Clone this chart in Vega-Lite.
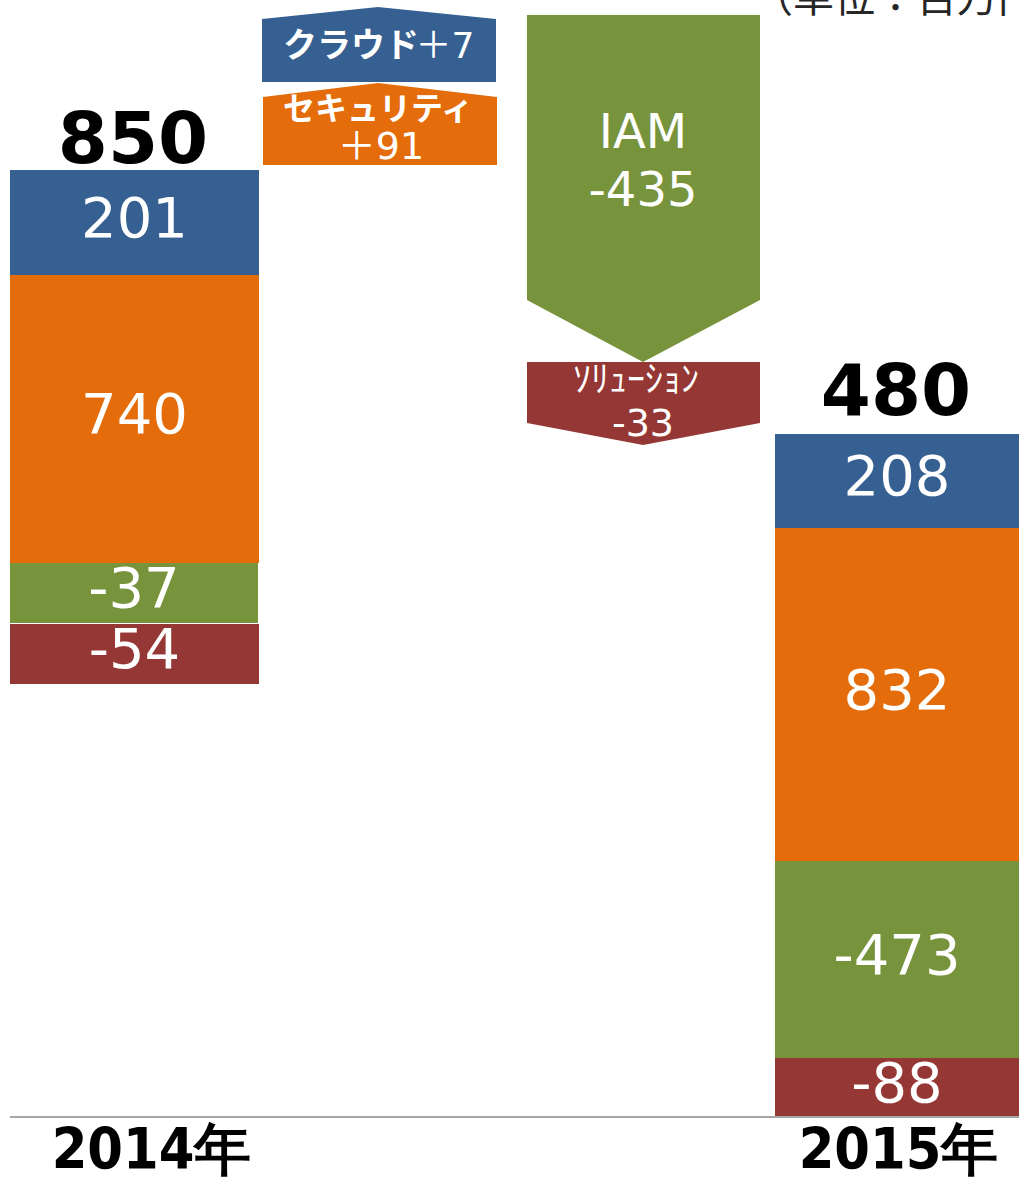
{
  "$schema": "https://vega.github.io/schema/vega-lite/v6.json",
  "width": 1019,
  "height": 1117,
  "autosize": {"type": "none"},
  "padding": {"left": 0, "top": 0, "right": 0, "bottom": 62},
  "background": "white",
  "config": {
    "view": {"stroke": null},
    "axisX": {"domain": false, "ticks": false, "grid": false, "labelFontSize": 57, "labelFont": "Liberation Sans Narrow, DejaVu Sans Condensed, sans-serif", "labelFontWeight": "bold", "labelColor": "black", "labelPadding": 6, "labelFlush": false, "labelLimit": 0, "labelOverlap": false, "title": null}
  },
  "datasets": {
    "bars": [
      {"year": "2014", "seg": "cloud", "x0": 10, "x1": 259, "y0": 842, "y1": 947, "label": "201"},
      {"year": "2014", "seg": "security", "x0": 10, "x1": 259, "y0": 554, "y1": 842, "label": "740"},
      {"year": "2014", "seg": "iam", "x0": 10, "x1": 258, "y0": 494, "y1": 554, "label": "-37"},
      {"year": "2014", "seg": "solution", "x0": 10, "x1": 259, "y0": 433, "y1": 493, "label": "-54"},
      {"year": "2015", "seg": "cloud", "x0": 775, "x1": 1019, "y0": 589, "y1": 683, "label": "208"},
      {"year": "2015", "seg": "security", "x0": 775, "x1": 1019, "y0": 256, "y1": 589, "label": "832"},
      {"year": "2015", "seg": "iam", "x0": 775, "x1": 1019, "y0": 59, "y1": 256, "label": "-473"},
      {"year": "2015", "seg": "solution", "x0": 775, "x1": 1019, "y0": 0, "y1": 59, "label": "-88"}
    ],
    "totals": [
      {"xc": 133, "ty": 954, "total": "850"},
      {"xc": 896, "ty": 702, "total": "480"}
    ],
    "changes": [
      {"seg": "cloud", "x": 262, "top": 1098, "bottom": 1035},
      {"seg": "cloud", "x": 378, "top": 1110, "bottom": 1035},
      {"seg": "cloud", "x": 496, "top": 1098, "bottom": 1035},
      {"seg": "security", "x": 263, "top": 1020, "bottom": 952},
      {"seg": "security", "x": 378, "top": 1034, "bottom": 952},
      {"seg": "security", "x": 497, "top": 1020, "bottom": 952},
      {"seg": "iam", "x": 527, "top": 1102, "bottom": 817},
      {"seg": "iam", "x": 643, "top": 1102, "bottom": 755},
      {"seg": "iam", "x": 760, "top": 1102, "bottom": 817},
      {"seg": "solution", "x": 527, "top": 755, "bottom": 694},
      {"seg": "solution", "x": 643, "top": 755, "bottom": 672},
      {"seg": "solution", "x": 760, "top": 755, "bottom": 694}
    ],
    "boldLabels": [
      {"text": "クラウド", "xc": 351, "yc": 1070, "size": 34},
      {"text": "セキュリティ", "xc": 378, "yc": 1007, "size": 32}
    ],
    "plainLabels": [
      {"text": "＋7", "xc": 445, "yc": 1070, "size": 36},
      {"text": "＋91", "xc": 381, "yc": 969, "size": 38},
      {"text": "IAM", "xc": 643, "yc": 983, "size": 48},
      {"text": "-435", "xc": 643, "yc": 925, "size": 48},
      {"text": "ｿﾘｭｰｼｮﾝ", "xc": 636, "yc": 736, "size": 36},
      {"text": "-33", "xc": 643, "yc": 692, "size": 38}
    ],
    "axisLine": [{"x0": 10, "x1": 1019, "y": 0}],
    "unit": [{"xc": 752, "y": 1105, "text": "（単位：百万円）"}]
  },
  "layer": [
    {
      "data": {"name": "bars"},
      "mark": {"type": "rect"},
      "encoding": {
        "x": {"field": "x0", "type": "quantitative", "scale": {"domain": [0, 1019], "nice": false, "zero": false}, "axis": {"values": [151, 898], "labelExpr": "datum.value < 500 ? '2014年' : '2015年'"}},
        "x2": {"field": "x1"},
        "y": {"field": "y0", "type": "quantitative", "scale": {"domain": [0, 1117], "nice": false, "zero": false}, "axis": null},
        "y2": {"field": "y1"},
        "color": {"field": "seg", "type": "nominal", "scale": {"domain": ["cloud", "security", "iam", "solution"], "range": ["#376092", "#E46C0A", "#77933C", "#953735"]}, "legend": null}
      }
    },
    {
      "data": {"name": "changes"},
      "mark": {"type": "area", "interpolate": "linear"},
      "encoding": {
        "x": {"field": "x", "type": "quantitative"},
        "y": {"field": "top", "type": "quantitative", "axis": null},
        "y2": {"field": "bottom"},
        "detail": {"field": "seg"},
        "color": {"field": "seg", "type": "nominal", "legend": null}
      }
    },
    {
      "data": {"name": "bars"},
      "transform": [{"calculate": "(datum.x0 + datum.x1) / 2", "as": "xc"}, {"calculate": "(datum.y0 + datum.y1) / 2", "as": "yc"}],
      "mark": {"type": "text", "color": "white", "font": "DejaVu Sans", "fontSize": 56, "baseline": "middle", "align": "center", "dy": -3},
      "encoding": {
        "x": {"field": "xc", "type": "quantitative"},
        "y": {"field": "yc", "type": "quantitative", "axis": null},
        "text": {"field": "label"}
      }
    },
    {
      "data": {"name": "totals"},
      "mark": {"type": "text", "color": "black", "font": "DejaVu Sans", "fontWeight": "bold", "fontSize": 72, "baseline": "alphabetic", "align": "center"},
      "encoding": {
        "x": {"field": "xc", "type": "quantitative"},
        "y": {"field": "ty", "type": "quantitative", "axis": null},
        "text": {"field": "total"}
      }
    },
    {
      "data": {"name": "boldLabels"},
      "mark": {"type": "text", "color": "white", "font": "Noto Sans CJK JP", "fontWeight": "bold", "baseline": "middle", "align": "center"},
      "encoding": {
        "x": {"field": "xc", "type": "quantitative"},
        "y": {"field": "yc", "type": "quantitative", "axis": null},
        "size": {"field": "size", "type": "quantitative", "scale": null},
        "text": {"field": "text"}
      }
    },
    {
      "data": {"name": "plainLabels"},
      "mark": {"type": "text", "color": "white", "font": "DejaVu Sans, Noto Sans CJK JP", "baseline": "middle", "align": "center"},
      "encoding": {
        "x": {"field": "xc", "type": "quantitative"},
        "y": {"field": "yc", "type": "quantitative", "axis": null},
        "size": {"field": "size", "type": "quantitative", "scale": null},
        "text": {"field": "text"}
      }
    },
    {
      "data": {"name": "axisLine"},
      "mark": {"type": "rule", "color": "#A6A6A6", "strokeWidth": 2},
      "encoding": {
        "x": {"field": "x0", "type": "quantitative"},
        "x2": {"field": "x1"},
        "y": {"field": "y", "type": "quantitative", "axis": null}
      }
    },
    {
      "data": {"name": "unit"},
      "mark": {"type": "text", "color": "#262626", "font": "Noto Sans CJK JP", "fontSize": 41, "baseline": "alphabetic", "align": "left"},
      "encoding": {
        "x": {"field": "xc", "type": "quantitative"},
        "y": {"field": "y", "type": "quantitative", "axis": null},
        "text": {"field": "text"}
      }
    }
  ]
}
